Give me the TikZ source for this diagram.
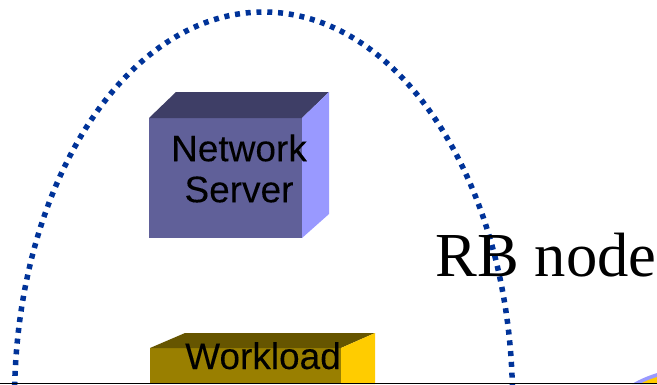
\documentclass[tikz,border=0pt]{standalone}
\usepackage{fontspec}
\setmainfont{Liberation Serif}
\newfontfamily\boxfont[FakeBold=0.12]{Liberation Sans}
\definecolor{ringblue}{HTML}{003399}
\definecolor{srvfront}{HTML}{606099}
\definecolor{srvtop}{HTML}{3E3E66}
\definecolor{srvside}{HTML}{9999FF}
\definecolor{wlfront}{HTML}{997F00}
\definecolor{wltop}{HTML}{665500}
\definecolor{wlside}{HTML}{FFCC00}
\tikzset{
  boxlabel/.style={font=\boxfont\fontsize{37}{42}\selectfont,text=black,inner sep=0pt,align=center},
  ring/.style={draw=ringblue,line width=5.5pt,dash pattern=on 5pt off 5.8pt},
}
\begin{document}
\begin{tikzpicture}[x=1pt,y=-1pt]
\useasboundingbox (0,0) rectangle (657,384);
\clip (0,0) rectangle (657,384);
\fill[white] (0,0) rectangle (657,384);
% dotted ring
\draw[ring] (263.5,400) ellipse [x radius=249,y radius=388];
% network server box
\fill[srvfront] (149,118) rectangle (302,238);
\fill[srvtop] (149,118) -- (176,92) -- (329,92) -- (302,118) -- cycle;
\fill[srvside] (302,118) -- (329,92) -- (329,214) -- (302,238) -- cycle;
\node[boxlabel] (server) at (239,168.5) {Network\\[-1pt]Server};
% workload box
\fill[wlfront] (150,348) rectangle (341,384);
\fill[wltop] (150,348) -- (185,333) -- (375,333) -- (341,348) -- cycle;
\fill[wlside] (341,348) -- (375,333) -- (375,384) -- (341,384) -- cycle;
\node[boxlabel,anchor=base] (workload) at (263,369) {Workload};
% RB node label
\node[font=\fontsize{62.6}{70}\selectfont,inner sep=0pt,anchor=base] (rb) at (546,276) {RB node};
% corner arc
\fill[srvside] (632,384) .. controls (640,379) and (648,376) .. (657,373) -- (657,384) -- cycle;
\fill[wlside] (640,384) .. controls (645,381) and (651,379) .. (657,377) -- (657,384) -- cycle;
% bottom rule
\draw[black,line width=1.5pt] (0,383.4) -- (657,383.4);
\end{tikzpicture}
\end{document}
